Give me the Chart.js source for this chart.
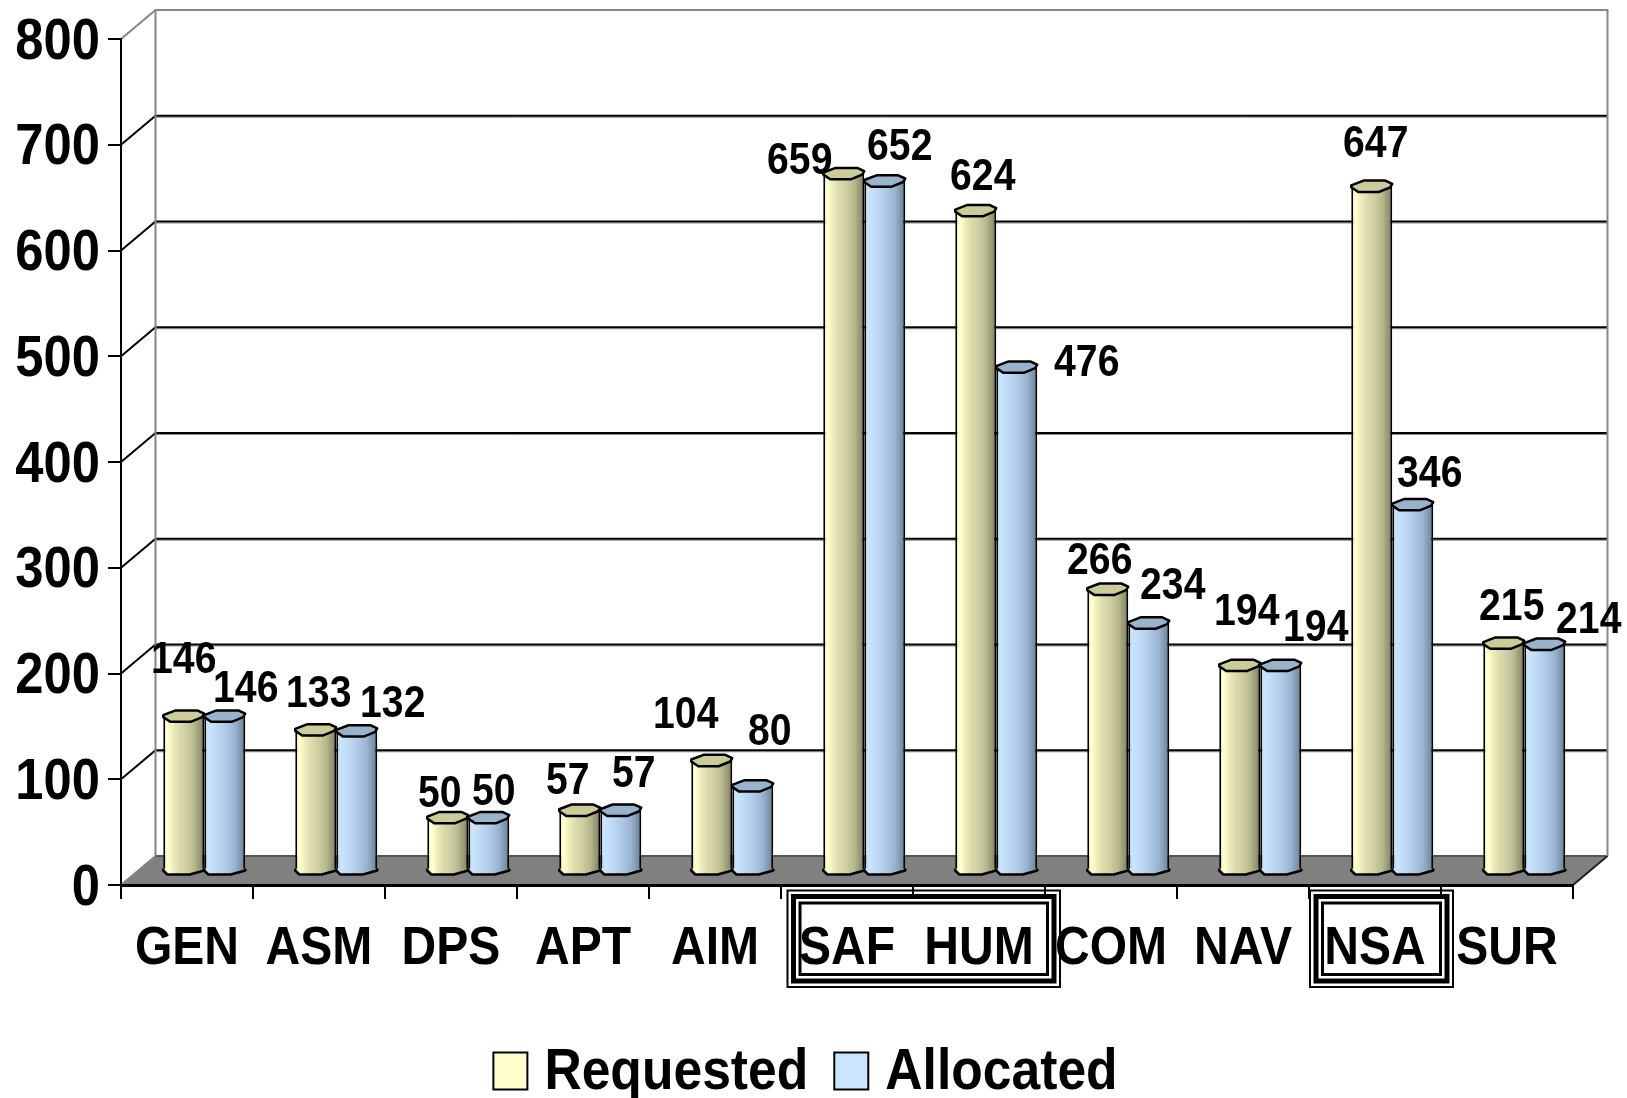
<!DOCTYPE html>
<html>
<head>
<meta charset="utf-8">
<style>html,body{margin:0;padding:0;background:#fff}canvas{display:block}</style>
<script src="https://cdn.jsdelivr.net/npm/chart.js@4/dist/chart.umd.js"></script>
</head>
<body>
<canvas id="c" width="1627" height="1098"></canvas>
<script>
const categories = ["GEN","ASM","DPS","APT","AIM","SAF","HUM","COM","NAV","NSA","SUR"];
const requested = [146,133,50,57,104,659,624,266,194,647,215];
const allocated = [146,132,50,57,80,652,476,234,194,346,214];
const seriesNames = ["Requested","Allocated"];
const yMax = 800;
const yStep = 100;

// label placement relative to the bar top (not data)
const requestedLabelOffset = [[0,-55],[3,-35],[-8,-23],[-12,-28],[-26,-45],[-44,-12],[7,-33],[-8,-27],[7,-52],[4,-41],[8,-35]];
const allocatedLabelOffset = [[21,-26],[36,-26],[5,-25],[13,-35],[17,-53],[15,-33],[70,-3],[24,-36],[35,-36],[17,-30],[44,-23]];
const framedGroups = [[5,6],[9,9]];
const frameInsets = [[5.5,16],[0,13]];

const FONT = '"Liberation Sans", Arial, sans-serif';
const DEPTH_X = 34.5, DEPTH_Y = 29;
const BAR_W = 41;
const LEGEND_SIZE = 58;

// The reference's type is condensed horizontally; its legend text also sits closer to the swatch
const SQUEEZE = 0.89;
const P = CanvasRenderingContext2D.prototype;
const origFill = P.fillText, origMeasure = P.measureText;
P.fillText = function(t, x, y, m){
  const isLegend = this.font.indexOf(LEGEND_SIZE + 'px') >= 0;
  origFill.call(this, t, isLegend ? x - 12 : x, isLegend ? y + 2 : y, m === undefined ? origMeasure.call(this, String(t)).width * SQUEEZE : m);
};
P.measureText = function(t){ return { width: origMeasure.call(this, t).width * SQUEEZE }; };

const ramps = [
  [[0,'#FFFFCC'],[0.14,'#FFFFCC'],[0.22,'#EEEEBF'],[0.38,'#DCDCAE'],[0.55,'#CFCFA3'],[0.75,'#B9B98F'],[0.92,'#92926F'],[1,'#7C7C5E']],
  [[0,'#CCE5FF'],[0.2,'#C6E0FA'],[0.38,'#B9D4F0'],[0.55,'#ABC7E4'],[0.75,'#98B3CF'],[0.92,'#7890A8'],[1,'#62758A']]
];
const capColors = ['#CCCC99','#99B3CC'];
const legendColors = ['#FFFFCC','#CCE5FF'];

function barFill(ctx){
  const c = ctx.chart, sx = c.scales.x;
  if (!sx || ctx.dataIndex === undefined) return legendColors[ctx.datasetIndex || 0];
  const x0 = sx.getPixelForValue(ctx.dataIndex) + (ctx.datasetIndex === 0 ? -BAR_W : 0);
  const g = c.ctx.createLinearGradient(x0, 0, x0 + BAR_W, 0);
  ramps[ctx.datasetIndex].forEach(s => g.addColorStop(s[0], s[1]));
  return g;
}

const scene = {
  id: 'scene',
  afterLayout(chart){
    const lg = chart.legend;
    lg.right += 50;
    lg.top = 1071 - 29 - lg.options.labels.padding;
  },
  beforeDraw(chart){
    const ctx = chart.ctx, ys = chart.scales.y, a = chart.chartArea;
    const bl = a.left + DEPTH_X, br = a.right + DEPTH_X;
    const y0 = ys.getPixelForValue(0), yT = ys.getPixelForValue(yMax);
    ctx.save();
    ctx.fillStyle = '#fff'; ctx.fillRect(0,0,chart.width,chart.height);
    // floor
    ctx.fillStyle = '#808080';
    ctx.beginPath(); ctx.moveTo(a.left,y0); ctx.lineTo(bl,y0-DEPTH_Y); ctx.lineTo(br,y0-DEPTH_Y); ctx.lineTo(a.right,y0); ctx.closePath(); ctx.fill();
    ctx.strokeStyle='#555'; ctx.lineWidth=2;
    ctx.beginPath(); ctx.moveTo(bl,y0-DEPTH_Y); ctx.lineTo(br,y0-DEPTH_Y); ctx.stroke();
    ctx.strokeStyle='#222';
    ctx.beginPath(); ctx.moveTo(a.right,y0); ctx.lineTo(br,y0-DEPTH_Y); ctx.stroke();
    // grid on the back wall and side wall
    ys.ticks.forEach(t => {
      const y = ys.getPixelForValue(t.value);
      if (t.value === 0) return;
      const gray = t.value === yMax;
      if (!gray){
        ctx.strokeStyle='#8a8a8a'; ctx.lineWidth=1;
        ctx.beginPath(); ctx.moveTo(bl,y-DEPTH_Y+1.5); ctx.lineTo(br,y-DEPTH_Y+1.5); ctx.stroke();
      }
      ctx.strokeStyle = gray ? '#868686' : '#000';
      ctx.lineWidth = 2;
      ctx.beginPath(); ctx.moveTo(a.left,y); ctx.lineTo(bl,y-DEPTH_Y); ctx.lineTo(br,y-DEPTH_Y); ctx.stroke();
    });
    ctx.strokeStyle='#868686'; ctx.lineWidth=2;
    ctx.beginPath();
    ctx.moveTo(bl,yT-DEPTH_Y-1); ctx.lineTo(bl,y0-DEPTH_Y);
    ctx.moveTo(br,yT-DEPTH_Y-1); ctx.lineTo(br,y0-DEPTH_Y);
    ctx.moveTo(a.left,y0); ctx.lineTo(bl,y0-DEPTH_Y);
    ctx.stroke();
    ctx.restore();
  },
  beforeDatasetsDraw(chart){
    chart.ctx.save();
    chart.ctx.translate(DEPTH_X/2, -DEPTH_Y/2);
  },
  afterDatasetsDraw(chart){
    const ctx = chart.ctx;
    ctx.lineWidth = 2.5; ctx.strokeStyle='#000'; ctx.lineJoin='round';
    chart.data.datasets.forEach((ds,di) => {
      chart.getDatasetMeta(di).data.forEach(el => {
        const {x,y,base,width:w} = el.getProps(['x','y','base','width'], true);
        const L = x - w/2;
        // rounded foot of the cylinder
        ctx.beginPath();
        ctx.moveTo(L,base-1); ctx.lineTo(L,base+1); ctx.lineTo(L+.1*w,base+5);
        ctx.lineTo(L+.65*w,base+5); ctx.lineTo(L+w,base+1); ctx.lineTo(L+w,base-1);
        ctx.fillStyle = el.options.backgroundColor; ctx.fill(); ctx.stroke();
        // cap of the cylinder
        ctx.beginPath();
        ctx.moveTo(L,y-1); ctx.lineTo(L+.3*w,y-5.7); ctx.lineTo(L+.83*w,y-5.7); ctx.lineTo(L+w,y-2.5);
        ctx.lineTo(L+.95*w,y+1); ctx.lineTo(L+.67*w,y+5.7); ctx.lineTo(L+.17*w,y+5.7); ctx.lineTo(L,y+1);
        ctx.closePath();
        ctx.fillStyle = capColors[di]; ctx.fill(); ctx.stroke();
      });
    });
    ctx.restore();
  },
  afterDraw(chart){
    const ctx = chart.ctx, xs = chart.scales.x;
    ctx.save();
    // value labels
    ctx.font = 'bold 44px ' + FONT; ctx.fillStyle='#000'; ctx.textAlign='center'; ctx.textBaseline='middle';
    const offs = [requestedLabelOffset, allocatedLabelOffset];
    chart.data.datasets.forEach((ds,di) => {
      chart.getDatasetMeta(di).data.forEach((el,i) => {
        const {x,y} = el.getProps(['x','y'], true);
        ctx.fillText(String(ds.data[i]), x + DEPTH_X/2 + offs[di][i][0], y - DEPTH_Y/2 + offs[di][i][1]);
      });
    });
    // triple-line frames round highlighted categories
    const step = xs.getPixelForValue(1) - xs.getPixelForValue(0);
    framedGroups.forEach((g,n) => {
      const l = xs.getPixelForValue(g[0]) - step/2 + frameInsets[n][0], r = xs.getPixelForValue(g[1]) + step/2 + frameInsets[n][1];
      const t = 889.5, b = 988;
      ctx.strokeStyle='#000';
      [[1,2],[7,5],[13.5,3]].forEach(s => {
        ctx.lineWidth=s[1];
        ctx.strokeRect(l+s[0],t+s[0],r-l-2*s[0],b-t-2*s[0]);
      });
    });
    ctx.restore();
  }
};

new Chart(document.getElementById('c'), {
  type: 'bar',
  data: {
    labels: categories,
    datasets: [
      { label: seriesNames[0], data: requested, backgroundColor: barFill, clip:false },
      { label: seriesNames[1], data: allocated, backgroundColor: barFill, clip:false }
    ]
  },
  plugins: [scene],
  options: {
    responsive: false,
    devicePixelRatio: 1,
    animation: false,
    layout: { padding: { left: 0, top: 39, right: 54, bottom: 0 } },
    datasets: { bar: { categoryPercentage: 2*BAR_W/132, barPercentage: 1, borderColor:'#000', borderWidth:{left:2,right:2,top:0,bottom:0}, borderSkipped:false } },
    plugins: {
      tooltip: { enabled:false },
      title: { display:false },
      legend: {
        display: true,
        position: 'bottom',
        labels: {
          boxWidth: 34, boxHeight: 37, padding: 14, color:'#000',
          font: { family: FONT, weight:'bold', size:LEGEND_SIZE },
          generateLabels: chart => chart.data.datasets.map((d,i) => ({
            text:d.label, fillStyle:legendColors[i], strokeStyle:'#000', lineWidth:2, datasetIndex:i, hidden:false, fontColor:'#000'
          }))
        }
      }
    },
    scales: {
      x: {
        afterFit(s){ s.height = 131; s.paddingLeft = 0; s.paddingRight = 0; },
        border: { display:true, color:'#000', width:3 },
        grid: { display:true, drawOnChartArea:false, drawTicks:true, tickLength:14, color:'#000', lineWidth:2 },
        ticks: { autoSkip:false, maxRotation:0, color:'#000', padding:18, font:{family:FONT, weight:'bold', size:54} }
      },
      y: {
        min: 0, max: yMax,
        afterFit(s){ s.width = 121; s.paddingTop = 0; s.paddingBottom = 0; },
        border: { display:true, color:'#000', width:2 },
        grid: { display:true, drawOnChartArea:false, drawTicks:true, tickLength:13, color:'#000', lineWidth:2 },
        ticks: { stepSize: yStep, color:'#000', padding:8, labelOffset:4, font:{family:FONT, weight:'bold', size:57} }
      }
    }
  }
});
</script>
</body>
</html>
